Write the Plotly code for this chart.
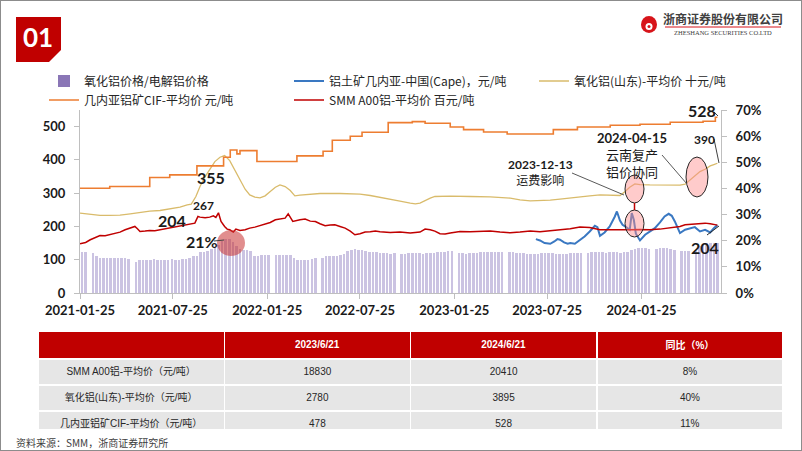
import pandas as pd
import plotly.graph_objects as go

W, H = 802, 451


def px(x):
    return x / W


def py(y):
    return 1 - y / H


# 氧化铝价格/电解铝价格 (%), weekly, None = holiday week
ratio_start = '2021-01-29'
ratio = [
    15.8, 15.8, None, 15.2, 14.0, 13.5, 13.3, 13.2, 13.3, 13.3,
    13.2, 13.4, 13.3, 13.0, None, 11.8, 12.5, 12.6, 12.8, 12.8,
    12.9, 12.8, 12.7, 12.8, 12.8, 12.9, 12.8, 12.8, 12.9, 13.0,
    13.2, 14.0, 14.3, 15.5, 15.8, 16.0, 16.7, 17.5, 18.5, 19.8,
    20.8, 20.5, 19.5, 18.0, 17.0, 16.5, 16.4, 16.0, 14.2, 14.2,
    14.5, 14.7, 14.7, None, 14.6, 14.6, 14.5, 14.6, 14.4, 13.3,
    12.6, 12.5, 12.6, 12.7, 13.0, 13.3, None, 13.3, 14.0, 14.2,
    14.2, 14.3, 14.5, 15.0, 16.0, 16.5, 16.7, 16.6, 16.4, 16.0,
    15.6, 15.5, 15.5, 15.3, 15.2, 15.2, 15.1, 15.2, None, 15.0,
    15.1, 15.2, 15.2, 15.3, 15.2, 15.1, 15.2, 15.3, 15.4, 15.5,
    15.6, 15.7, 15.9, 16.0, None, 15.4, 15.2, 15.1, 15.2, 15.3,
    15.4, 15.6, 15.6, 15.7, 15.6, 15.5, 15.6, 15.7, None, 15.6,
    15.5, 15.3, 15.2, 15.2, 15.1, 15.0, 15.0, 15.1, 15.2, 15.2,
    15.3, 15.2, 15.1, 15.0, 15.0, 15.1, 15.2, 15.3, 15.4, 15.4,
    None, 15.4, 15.5, 15.5, 15.6, 15.5, 15.4, 15.5, 15.6, 15.5,
    15.4, 15.5, 15.8, 16.3, 17.0, 17.1, 17.2, 17.3, 17.0, None,
    17.0, 17.1, 17.2, 17.1, 17.0, 16.5, None, 16.0, 15.9, 15.9,
    None, 16.2, 18.0, 18.6, 19.0, 19.2, 19.3, 19.1,
]
ratio_dates = pd.date_range(ratio_start, periods=len(ratio), freq='7D')

# 几内亚铝矿CIF-平均价 元/吨 (step changes)
cif_dates = ['2021-01-25', '2021-03-24', '2021-06-10', '2021-07-19', '2021-09-10',
             '2021-11-01', '2021-11-14', '2021-11-27', '2021-12-03', '2022-01-05',
             '2022-03-24', '2022-05-14', '2022-06-01', '2022-07-06', '2022-07-29',
             '2022-09-18', '2022-11-04', '2022-11-29', '2023-01-17', '2023-02-12',
             '2023-03-23', '2023-05-08', '2023-08-06', '2023-09-22', '2023-11-25',
             '2024-01-22', '2024-03-21', '2024-05-24', '2024-06-17', '2024-06-21']
cif = [315, 320, 347, 355, 382,
       408, 430, 418, 428, 395,
       412, 426, 459, 471, 483,
       512, 515, 510, 499, 491,
       484, 478, 491, 499, 504,
       507, 513, 516, 528, 528]

# 氧化铝(山东)-平均价 十元/吨
sd_dates = ['2021-01-25', '2021-02-14', '2021-03-05', '2021-03-24', '2021-04-13',
            '2021-05-03', '2021-05-22', '2021-06-10', '2021-06-30', '2021-07-19',
            '2021-08-08', '2021-08-22', '2021-08-30', '2021-09-08', '2021-09-16',
            '2021-09-26', '2021-10-05', '2021-10-15', '2021-10-25', '2021-11-03',
            '2021-11-13', '2021-11-23', '2021-12-03', '2021-12-13', '2021-12-22',
            '2022-01-01', '2022-01-11', '2022-01-21', '2022-01-31', '2022-02-10',
            '2022-02-19', '2022-03-01', '2022-03-11', '2022-03-20', '2022-03-30',
            '2022-04-19', '2022-05-08', '2022-06-16', '2022-07-25', '2022-08-14',
            '2022-09-02', '2022-09-22', '2022-10-11', '2022-10-31', '2022-11-10',
            '2022-11-19', '2022-11-29', '2022-12-09', '2022-12-18', '2023-01-17',
            '2023-02-25', '2023-04-05', '2023-05-14', '2023-06-02', '2023-06-22',
            '2023-07-11', '2023-07-31', '2023-08-19', '2023-09-08', '2023-09-27',
            '2023-10-16', '2023-11-05', '2023-11-24', '2023-12-14', '2023-12-24',
            '2024-01-02', '2024-01-12', '2024-01-22', '2024-02-10', '2024-03-01',
            '2024-03-21', '2024-04-09', '2024-04-19', '2024-04-29', '2024-05-08',
            '2024-05-18', '2024-05-28', '2024-06-07', '2024-06-14', '2024-06-21']
sd = [240, 236, 233, 233, 234,
      238, 243, 246, 248, 252,
      258, 265, 267, 290, 320,
      350, 372, 395, 408, 413,
      398, 370, 340, 312, 295,
      288, 286, 292, 305, 318,
      325, 320, 308, 292, 294,
      297, 299, 299, 297, 293,
      288, 283, 276, 270, 268,
      270, 278, 285, 290, 291,
      290, 289, 285, 280, 277,
      277, 279, 282, 286, 288,
      292, 295, 294, 293, 305,
      318, 328, 326, 325, 325,
      324, 324, 327, 340, 352,
      365, 372, 382, 386, 390]

# SMM A00铝-平均价 百元/吨
smm_dates = ['2021-01-25', '2021-02-05', '2021-02-14', '2021-02-24', '2021-03-05',
             '2021-03-15', '2021-03-24', '2021-04-03', '2021-04-13', '2021-04-23',
             '2021-05-03', '2021-05-12', '2021-05-17', '2021-05-22', '2021-06-01',
             '2021-06-10', '2021-06-20', '2021-06-30', '2021-07-10', '2021-07-19',
             '2021-07-29', '2021-08-08', '2021-08-18', '2021-08-27', '2021-09-06',
             '2021-09-12', '2021-09-16', '2021-09-26', '2021-10-05', '2021-10-12',
             '2021-10-17', '2021-10-22', '2021-10-27', '2021-11-03', '2021-11-08',
             '2021-11-13', '2021-11-20', '2021-11-25', '2021-12-03', '2021-12-13',
             '2021-12-22', '2022-01-01', '2022-01-11', '2022-01-21', '2022-01-31',
             '2022-02-10', '2022-02-19', '2022-03-01', '2022-03-07', '2022-03-11',
             '2022-03-16', '2022-03-30', '2022-04-09', '2022-04-19', '2022-04-29',
             '2022-05-08', '2022-05-18', '2022-05-28', '2022-06-06', '2022-06-16',
             '2022-06-26', '2022-07-06', '2022-07-15', '2022-07-25', '2022-08-04',
             '2022-08-14', '2022-08-24', '2022-09-02', '2022-09-12', '2022-09-22',
             '2022-10-11', '2022-10-31', '2022-11-19', '2022-11-29', '2022-12-09',
             '2022-12-18', '2022-12-28', '2023-01-07', '2023-01-17', '2023-02-05',
             '2023-02-25', '2023-03-16', '2023-04-05', '2023-04-24', '2023-05-14',
             '2023-06-02', '2023-06-22', '2023-07-11', '2023-07-31', '2023-08-19',
             '2023-09-08', '2023-09-27', '2023-10-16', '2023-11-05', '2023-11-24',
             '2023-12-14', '2024-01-02', '2024-01-22', '2024-02-10', '2024-03-01',
             '2024-03-21', '2024-04-09', '2024-04-19', '2024-04-29', '2024-05-08',
             '2024-05-18', '2024-05-28', '2024-06-07', '2024-06-14', '2024-06-21']
smm = [148, 152, 160, 168, 173,
       172, 175, 178, 183, 190,
       195, 200, 193, 185, 186,
       188, 187, 190, 192, 195,
       198, 200, 203, 206, 210,
       230, 228, 226, 228, 232,
       227, 241, 215, 200, 192,
       190, 183, 192, 188, 190,
       195, 198, 202, 208, 212,
       220, 223, 225, 238, 228,
       215, 220, 222, 216, 215,
       208, 202, 204, 205, 200,
       195, 186, 175, 178, 183,
       184, 186, 184, 183, 182,
       183, 180, 183, 192, 190,
       186, 178, 177, 180, 185,
       184, 185, 186, 183, 181,
       183, 186, 184, 187, 189,
       193, 198, 197, 190, 190,
       188, 190, 191, 190, 192,
       196, 200, 205, 206, 208,
       207, 210, 208, 205, 204]

# 铝土矿几内亚-中国(Cape)，元/吨
cape_dates = ['2023-07-03', '2023-07-11', '2023-07-20', '2023-07-31', '2023-08-08',
              '2023-08-14', '2023-08-19', '2023-08-27', '2023-09-03', '2023-09-08',
              '2023-09-17', '2023-09-27', '2023-10-06', '2023-10-16', '2023-10-26',
              '2023-10-31', '2023-11-05', '2023-11-14', '2023-11-24', '2023-12-04',
              '2023-12-08', '2023-12-14', '2023-12-19', '2023-12-24', '2024-01-02',
              '2024-01-06', '2024-01-10', '2024-01-14', '2024-01-22', '2024-02-01',
              '2024-02-10', '2024-02-20', '2024-03-01', '2024-03-10', '2024-03-18',
              '2024-03-24', '2024-03-30', '2024-04-05', '2024-04-09', '2024-04-19',
              '2024-04-29', '2024-05-08', '2024-05-18', '2024-05-28', '2024-06-07',
              '2024-06-14', '2024-06-21']
cape = [162, 158, 150, 148, 155,
        162, 160, 152, 148, 150,
        148, 160, 170, 185, 202,
        198, 172, 182, 200, 230,
        245, 218, 205, 200, 190,
        240, 220, 178, 158, 175,
        185, 195, 212, 230, 238,
        232, 215, 192, 180, 190,
        195, 198, 185, 190, 182,
        195, 204]

xticks = ['2021-01-25', '2021-07-25', '2022-01-25', '2022-07-25',
          '2023-01-25', '2023-07-25', '2024-01-25']

tbl_header = ['', '2023/6/21', '2024/6/21', '同比（%）']
tbl_names = ['SMM A00铝-平均价（元/吨）', '氧化铝(山东)-平均价（元/吨）', '几内亚铝矿CIF-平均价（元/吨）']
tbl_2023 = ['18830', '2780', '478']
tbl_2024 = ['20410', '3895', '528']
tbl_yoy = ['8%', '40%', '11%']

num_font = 'Lato, Noto Sans CJK SC'
cjk_font = 'Noto Sans CJK SC'

fig = go.Figure()

fig.add_trace(go.Bar(x=ratio_dates, y=ratio, yaxis='y', showlegend=False,
                     marker=dict(color='#CBC3E2', line=dict(width=0)),
                     width=5 * 86400000, hoverinfo='skip'))
fig.add_trace(go.Bar(x=[ratio_dates[0]], y=[0], yaxis='y', name='氧化铝价格/电解铝价格',
                     marker=dict(color='#8A76B6', line=dict(width=0)), legendrank=1))
fig.add_trace(go.Scatter(x=cape_dates, y=cape, yaxis='y2', mode='lines',
                         name='铝土矿几内亚-中国(Cape)，元/吨',
                         line=dict(color='#3A78C2', width=2), legendrank=2))
fig.add_trace(go.Scatter(x=sd_dates, y=sd, yaxis='y2', mode='lines',
                         name='氧化铝(山东)-平均价 十元/吨',
                         line=dict(color='#D9BB6B', width=1.3), legendrank=3))
fig.add_trace(go.Scatter(x=cif_dates, y=cif, yaxis='y2', mode='lines',
                         name='几内亚铝矿CIF-平均价 元/吨',
                         line=dict(color='#ED7D31', width=1.6, shape='hv'), legendrank=4))
fig.add_trace(go.Scatter(x=smm_dates, y=smm, yaxis='y2', mode='lines',
                         name='SMM A00铝-平均价 百元/吨',
                         line=dict(color='#C00000', width=1.5), legendrank=5))

fig.add_trace(go.Table(
    domain=dict(x=[px(38), px(783)], y=[py(429), py(331)]),
    columnwidth=[1, 1, 1, 1],
    header=dict(values=['<b>%s</b>' % v if v else '' for v in tbl_header],
                fill_color='#C00000', line=dict(color='white', width=1.5),
                font=dict(family='Liberation Sans, Noto Sans CJK SC', size=10, color='white'),
                align='center', height=20),
    cells=dict(values=[tbl_names, tbl_2023, tbl_2024, tbl_yoy],
               fill_color='#E6E6E6', line=dict(color='white', width=1.5),
               font=dict(family='Liberation Sans, Noto Sans CJK SC', size=10, color='#262626'),
               align='center', height=26),
))

tick_font = dict(family='Lato', size=13, color='#1A1A1A', weight='bold')
axis_common = dict(showgrid=False, zeroline=False, showline=True, linecolor='#BFBFBF',
                   linewidth=1, ticks='outside', ticklen=5, tickcolor='#BFBFBF',
                   tickfont=tick_font, automargin=False)

fig.update_layout(
    width=W, height=H, margin=dict(l=0, r=0, t=0, b=0, autoexpand=False),
    paper_bgcolor='white', plot_bgcolor='white',
    barmode='overlay', bargap=0, showlegend=True,
    xaxis=dict(domain=[px(80), px(721)], type='date',
               range=['2021-01-25', '2024-06-28'],
               tickvals=xticks, ticktext=xticks, anchor='y', **axis_common),
    yaxis=dict(domain=[py(293), py(110)], range=[0, 70], dtick=10, ticksuffix='%',
               side='right', anchor='x', ticklabelstandoff=6, **axis_common),
    yaxis2=dict(range=[0, 550], tickvals=[0, 100, 200, 300, 400, 500],
                overlaying='y', side='left', anchor='x', ticklabelstandoff=6, **axis_common),
    legend=dict(orientation='h', x=px(44), xanchor='left', y=py(66.5), yanchor='top',
                entrywidth=200, entrywidthmode='pixels', traceorder='normal',
                font=dict(family=cjk_font, size=12, color='#262626'),
                bgcolor='rgba(0,0,0,0)'),
)

shapes = []
# outer frame
shapes.append(dict(type='rect', xref='paper', yref='paper', x0=0, x1=1, y0=0, y1=1,
                   line=dict(color='#8C8C8C', width=2)))
# "01" badge
badge = [(16, 17), (61, 17), (61, 50), (49, 62), (16, 62)]
path = 'M ' + ' L '.join('%f,%f' % (px(a), py(b)) for a, b in badge) + ' Z'
shapes.append(dict(type='path', xref='paper', yref='paper', path=path,
                   fillcolor='#C00000', line=dict(width=0)))
# logo
shapes.append(dict(type='circle', xref='paper', yref='paper',
                   x0=px(641), x1=px(657), y0=py(33), y1=py(16),
                   fillcolor='#D7141A', line=dict(width=0)))
shapes.append(dict(type='circle', xref='paper', yref='paper',
                   x0=px(645.5), x1=px(652.5), y0=py(30), y1=py(23),
                   fillcolor='white', line=dict(width=0)))
shapes.append(dict(type='circle', xref='paper', yref='paper',
                   x0=px(647.5), x1=px(650.5), y0=py(28), y1=py(25),
                   fillcolor='#D7141A', line=dict(width=0)))
shapes.append(dict(type='line', xref='paper', yref='paper',
                   x0=px(665), x1=px(781), y0=py(27), y1=py(27),
                   line=dict(color='#D7141A', width=1)))


def ellipse(x0, x1, y0, y1, fill, line_color=None):
    return dict(type='circle', xref='paper', yref='paper', layer='above',
                x0=px(x0), x1=px(x1), y0=py(y1), y1=py(y0), fillcolor=fill,
                line=dict(color=line_color or 'rgba(0,0,0,0)', width=1 if line_color else 0))


def seg(x0, y0, x1, y1, color='#404040', width=1):
    return dict(type='line', xref='paper', yref='paper', x0=px(x0), y0=py(y0),
                x1=px(x1), y1=py(y1), line=dict(color=color, width=width))


shapes.append(ellipse(217, 245, 230, 256, 'rgba(200,50,50,0.55)'))
shapes.append(ellipse(625, 644, 175, 203, 'rgba(255,140,140,0.45)', '#262626'))
shapes.append(ellipse(625, 644, 210, 237, 'rgba(255,140,140,0.45)', '#262626'))
shapes.append(ellipse(686, 708, 157, 197, 'rgba(255,140,140,0.45)', '#262626'))
shapes.append(seg(634.5, 203, 634.5, 210, '#C00000', 1.5))
shapes.append(seg(572, 173, 624, 195, '#595959'))
shapes.append(seg(662, 155, 687, 184, '#595959'))
shapes.append(seg(214, 241, 224, 240, '#404040'))
shapes.append(seg(714, 112, 718, 116, '#404040'))
shapes.append(seg(714, 139, 719, 163, '#404040'))
shapes.append(seg(707, 235, 719, 226, '#262626'))
fig.update_layout(shapes=shapes)

annotations = [
    dict(text='<b>01</b>', x=px(38), y=py(37), font=dict(family='Lato', size=26, color='white')),
    dict(text='<b>浙商证券股份有限公司</b>', x=px(723), y=py(19),
         font=dict(family=cjk_font, size=12, color='#404040')),
    dict(text='ZHESHANG SECURITIES CO.LTD', x=px(723), y=py(33),
         font=dict(family='Liberation Serif', size=6.5, color='#404040')),
    dict(text='<b>355</b>', x=px(211), y=py(177), font=dict(family=num_font, size=16, color='#1A1A1A')),
    dict(text='<b>267</b>', x=px(204), y=py(205), font=dict(family=num_font, size=12, color='#1A1A1A')),
    dict(text='<b>204</b>', x=px(172), y=py(220), font=dict(family=num_font, size=16, color='#1A1A1A')),
    dict(text='<b>21%</b>', x=px(202), y=py(241), font=dict(family=num_font, size=16, color='#1A1A1A')),
    dict(text='<b>2023-12-13</b><br>运费影响', x=px(540), y=py(173),
         font=dict(family=num_font, size=12, color='#1A1A1A')),
    dict(text='<b>2024-04-15</b><br>云南复产<br>铝价协同', x=px(632), y=py(155),
         font=dict(family=num_font, size=13, color='#1A1A1A')),
    dict(text='<b>528</b>', x=px(702), y=py(110), font=dict(family=num_font, size=16, color='#1A1A1A')),
    dict(text='<b>390</b>', x=px(704), y=py(139), font=dict(family=num_font, size=12, color='#1A1A1A')),
    dict(text='<b>204</b>', x=px(705), y=py(247), font=dict(family=num_font, size=16, color='#1A1A1A')),
    dict(text='资料来源：SMM，浙商证券研究所', x=px(14), y=py(442), xanchor='left',
         font=dict(family=cjk_font, size=10, color='#404040')),
]
for a in annotations:
    a.setdefault('xref', 'paper')
    a.setdefault('yref', 'paper')
    a.setdefault('showarrow', False)
    a.setdefault('xanchor', 'center')
    a.setdefault('yanchor', 'middle')
fig.update_layout(annotations=annotations)

# page body has a default 8px margin; remove it so the figure fills the window
fig.write_html("out.html", config={'displayModeBar': False},
               post_script="document.body.style.margin='0px';")
